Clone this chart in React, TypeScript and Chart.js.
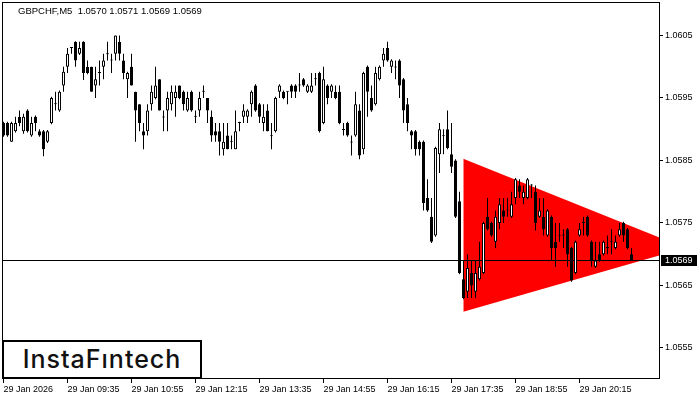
import React, { useEffect, useRef } from "react";
import { Chart, registerables } from "chart.js";

Chart.register(...registerables);

const titleText = "GBPCHF,M5  1.0570 1.0571 1.0569 1.0569";
const logoText = "InstaFıntech";

const opens = [
  1.0591, 1.0591, 1.0588, 1.05897, 1.0592, 1.05897, 1.0593, 1.0589, 1.0592, 1.05897,
  1.05897, 1.0588, 1.0591, 1.0594, 1.0593, 1.0597, 1.06, 1.0603, 1.0604, 1.06021,
  1.0604, 1.06, 1.06, 1.0597, 1.0599, 1.06, 1.0602, 1.0601, 1.06021, 1.0604,
  1.0601, 1.0598, 1.06, 1.0596, 1.0594, 1.05897, 1.05897, 1.0594, 1.0595, 1.0598,
  1.0592, 1.0593, 1.0594, 1.0595, 1.0597, 1.0596, 1.0593, 1.0596, 1.0592, 1.0593,
  1.0596, 1.0595, 1.0592, 1.05897, 1.05897, 1.05868, 1.0589, 1.0588, 1.05868, 1.0591,
  1.0592, 1.0592, 1.0594, 1.0597, 1.0594, 1.0591, 1.0593, 1.0589, 1.05897, 1.0596,
  1.0596, 1.0596, 1.0597, 1.0597, 1.0597, 1.0598, 1.0596, 1.0596, 1.0598, 1.0599,
  1.0591, 1.0597, 1.0596, 1.0596, 1.0596, 1.059, 1.0591, 1.0588, 1.0589, 1.0593,
  1.05868, 1.06, 1.0595, 1.0594, 1.0598, 1.0601, 1.0603, 1.06, 1.06, 1.0601,
  1.0598, 1.0594, 1.05897, 1.05897, 1.0588, 1.0588, 1.0579, 1.0576, 1.0573, 1.0586,
  1.0589, 1.059, 1.0586, 1.0585, 1.05785, 1.0566, 1.0564, 1.0567, 1.0564, 1.0566,
  1.0567, 1.0576, 1.0575, 1.0572, 1.0575, 1.0577, 1.0577, 1.0576, 1.0579, 1.0581,
  1.0579, 1.0579, 1.0581, 1.058, 1.0576, 1.0576, 1.0573, 1.0576, 1.0572, 1.0573,
  1.0573, 1.0574, 1.0571, 1.0567, 1.0573, 1.0575, 1.0576, 1.0572, 1.0568, 1.057,
  1.057, 1.0571, 1.0572, 1.0571, 1.0573, 1.0575, 1.0574, 1.057,
];

const highs = [
  1.05912, 1.05912, 1.05912, 1.0592, 1.0593, 1.05925, 1.05932, 1.0592, 1.05922, 1.059,
  1.05899, 1.05899, 1.05952, 1.0596, 1.05962, 1.06, 1.0603, 1.06031, 1.06041, 1.0604,
  1.06041, 1.0601, 1.06, 1.06, 1.0601, 1.06021, 1.0604, 1.06021, 1.0605, 1.0605,
  1.06021, 1.05992, 1.06021, 1.0596, 1.0594, 1.0591, 1.0594, 1.0597, 1.06, 1.0598,
  1.0593, 1.0596, 1.0597, 1.0597, 1.0597, 1.05962, 1.0596, 1.05962, 1.0593, 1.0596,
  1.0597, 1.0595, 1.0593, 1.0591, 1.0591, 1.0591, 1.0591, 1.0589, 1.0593, 1.05912,
  1.0594, 1.05932, 1.05962, 1.05972, 1.05942, 1.0594, 1.0594, 1.0591, 1.05952, 1.05972,
  1.05962, 1.05961, 1.05972, 1.05972, 1.0599, 1.05982, 1.05972, 1.0599, 1.0599, 1.05992,
  1.06, 1.05972, 1.05972, 1.0597, 1.0597, 1.0591, 1.05912, 1.0589, 1.0596, 1.0594,
  1.05992, 1.06002, 1.0597, 1.06, 1.06002, 1.0603, 1.0604, 1.06012, 1.0601, 1.06012,
  1.05982, 1.0595, 1.05899, 1.05899, 1.05882, 1.05882, 1.0582, 1.0579, 1.05872, 1.0591,
  1.059, 1.0593, 1.0591, 1.05852, 1.058, 1.0569, 1.057, 1.0569, 1.0569, 1.0572,
  1.05752, 1.0579, 1.05752, 1.0577, 1.0579, 1.0579, 1.0579, 1.058, 1.05822, 1.0582,
  1.0581, 1.05822, 1.05812, 1.0581, 1.0579, 1.0579, 1.05772, 1.05762, 1.0575, 1.0575,
  1.0574, 1.05742, 1.05712, 1.05722, 1.0575, 1.0576, 1.05762, 1.05722, 1.0572, 1.0572,
  1.05722, 1.0573, 1.0574, 1.0573, 1.0575, 1.05752, 1.05742, 1.0571,
];

const lows = [
  1.05888, 1.05888, 1.0588, 1.05895, 1.05905, 1.05893, 1.05895, 1.05888, 1.05897, 1.05888,
  1.05857, 1.05878, 1.05908, 1.0593, 1.05928, 1.0596, 1.0599, 1.06021, 1.06, 1.06019,
  1.05979, 1.05988, 1.0596, 1.0595, 1.0597, 1.0598, 1.0601, 1.0599, 1.0601, 1.0601,
  1.0598, 1.0595, 1.0597, 1.0588, 1.05897, 1.05868, 1.0589, 1.0593, 1.05948, 1.0593,
  1.05897, 1.05897, 1.0593, 1.0592, 1.05948, 1.0593, 1.05928, 1.05928, 1.0591, 1.0592,
  1.0595, 1.0591, 1.0588, 1.0588, 1.05858, 1.05858, 1.05868, 1.05868, 1.05868, 1.05897,
  1.0591, 1.0591, 1.0592, 1.05928, 1.0591, 1.05897, 1.05897, 1.05868, 1.05895, 1.0595,
  1.05948, 1.0594, 1.0595, 1.0595, 1.0596, 1.05968, 1.05958, 1.05958, 1.0597, 1.05895,
  1.05908, 1.0594, 1.0595, 1.05948, 1.05908, 1.0589, 1.05888, 1.05858, 1.05888, 1.05852,
  1.0586, 1.0592, 1.05928, 1.05938, 1.05978, 1.06, 1.06008, 1.0599, 1.0598, 1.0595,
  1.0591, 1.05897, 1.05868, 1.05858, 1.05858, 1.0577, 1.05768, 1.05718, 1.05728, 1.0583,
  1.0586, 1.05868, 1.0583, 1.05758, 1.05668, 1.05628, 1.0563, 1.0563, 1.0563, 1.05658,
  1.05668, 1.05738, 1.05728, 1.0571, 1.0574, 1.0575, 1.0576, 1.05758, 1.0578, 1.0579,
  1.0578, 1.05788, 1.0579, 1.05738, 1.05758, 1.0573, 1.05728, 1.0569, 1.0568, 1.0572,
  1.0571, 1.0568, 1.05656, 1.05668, 1.05728, 1.0573, 1.05728, 1.0568, 1.05678, 1.05688,
  1.05698, 1.057, 1.057, 1.05708, 1.05728, 1.0572, 1.05708, 1.0569,
];

const closes = [
  1.0589, 1.0589, 1.0591, 1.0591, 1.0591, 1.0592, 1.05897, 1.0591, 1.0591, 1.0589,
  1.05868, 1.05897, 1.0595, 1.05941, 1.0596, 1.05992, 1.06021, 1.0603, 1.0601, 1.0603,
  1.0599, 1.0599, 1.0596, 1.0598, 1.05991, 1.0601, 1.06021, 1.06011, 1.0605, 1.06021,
  1.0599, 1.0599, 1.0597, 1.0593, 1.0591, 1.0589, 1.0593, 1.0596, 1.0597, 1.0593,
  1.05919, 1.0595, 1.0596, 1.0596, 1.0595, 1.0594, 1.0595, 1.0593, 1.05921, 1.0595,
  1.05961, 1.0593, 1.0589, 1.0589, 1.0588, 1.0588, 1.05868, 1.05881, 1.05897, 1.05911,
  1.0593, 1.0593, 1.0596, 1.0593, 1.0592, 1.0592, 1.05897, 1.05889, 1.0595, 1.0597,
  1.0595, 1.0596, 1.0596, 1.0596, 1.05971, 1.0597, 1.0597, 1.0597, 1.05981, 1.05897,
  1.0598, 1.0595, 1.0597, 1.0595, 1.0591, 1.05899, 1.0589, 1.05879, 1.0594, 1.05858,
  1.0599, 1.0596, 1.0593, 1.0599, 1.06, 1.06021, 1.0601, 1.0601, 1.05999, 1.0597,
  1.0593, 1.0591, 1.0589, 1.05868, 1.05868, 1.05782, 1.0577, 1.0572, 1.0587, 1.059,
  1.05889, 1.0587, 1.0584, 1.0576, 1.0567, 1.0563, 1.05678, 1.0565, 1.0567, 1.0568,
  1.0575, 1.0574, 1.0573, 1.0576, 1.0578, 1.0576, 1.05771, 1.0578, 1.0582, 1.058,
  1.058, 1.0582, 1.0581, 1.0575, 1.0577, 1.0574, 1.0577, 1.0571, 1.0571, 1.05729,
  1.05731, 1.057, 1.05658, 1.0572, 1.0574, 1.05751, 1.0573, 1.0569, 1.0569, 1.0569,
  1.0572, 1.05711, 1.05721, 1.0572, 1.0574, 1.0573, 1.0571, 1.0569,
];

// bar index of each time label (5-minute bars starting 29 Jan 08:15)
const tickBars = [0, 16, 32, 48, 64, 80, 96, 112, 128, 144];
const tickLabels = [
  "29 Jan 2026",
  "29 Jan 09:35",
  "29 Jan 10:55",
  "29 Jan 12:15",
  "29 Jan 13:35",
  "29 Jan 14:55",
  "29 Jan 16:15",
  "29 Jan 17:35",
  "29 Jan 18:55",
  "29 Jan 20:15",
];
const priceTicks = [1.0555, 1.0565, 1.0575, 1.0585, 1.0595, 1.0605];

// symmetrical triangle pattern: start bar / apex bar, upper and lower edges
const triangleBars = [114.95, 170.55];
const triangleUpper = [1.05853, 1.0571];
const triangleLower = [1.05608, 1.0571];

const AXIS_FONT = { family: "'Liberation Sans', Arial, sans-serif", size: 9 };

export default function App() {
  const canvasRef = useRef<HTMLCanvasElement | null>(null);

  useEffect(() => {
    const canvas = canvasRef.current;
    if (!canvas) return;
    const lastClose = closes[closes.length - 1];

    const framePlugin = {
      id: "frame",
      afterDatasetsDraw(chart: any) {
        const { ctx, chartArea } = chart;
        ctx.save();
        ctx.strokeStyle = "#000";
        ctx.lineWidth = 1;
        ctx.strokeRect(
          chartArea.left + 0.5,
          chartArea.top + 0.5,
          chartArea.right - chartArea.left - 1,
          chartArea.bottom - chartArea.top - 1
        );
        ctx.restore();
      },
    };

    const priceLabelPlugin = {
      id: "priceLabel",
      afterDraw(chart: any) {
        const { ctx, chartArea } = chart;
        const y = Math.round(chart.scales.y.getPixelForValue(lastClose));
        ctx.save();
        ctx.fillStyle = "#000";
        ctx.fillRect(chartArea.right + 1, y - 6, 36, 11);
        ctx.fillStyle = "#fff";
        ctx.font = "9px 'Liberation Sans', Arial, sans-serif";
        ctx.textBaseline = "middle";
        ctx.textAlign = "left";
        ctx.fillText(lastClose.toFixed(4), chartArea.right + 5, y - 0.5);
        ctx.restore();
      },
    };

    const idx = opens.map((_, i) => i);

    const chart = new Chart(canvas, {
      type: "bar",
      data: {
        datasets: [
          {
            type: "bar",
            label: "bodies",
            data: idx.map((i) => ({ x: i, y: [opens[i], closes[i]] })) as any,
            backgroundColor: (c: any) =>
              closes[c.dataIndex] >= opens[c.dataIndex] ? "#ffffff" : "#000000",
            borderColor: "#000",
            borderWidth: 1,
            borderSkipped: false,
            barThickness: 3,
            minBarLength: 1,
            grouped: false,
            inflateAmount: 0,
            order: 0,
          } as any,
          {
            type: "bar",
            label: "wicks",
            data: idx.map((i) => ({ x: i, y: [lows[i], highs[i]] })) as any,
            backgroundColor: "#000",
            borderWidth: 0,
            barThickness: 1,
            minBarLength: 1,
            grouped: false,
            inflateAmount: 0,
            order: 1,
          } as any,
          {
            type: "line",
            label: "bid",
            data: [
              { x: -1, y: lastClose },
              { x: 200, y: lastClose },
            ],
            borderColor: "#000",
            borderWidth: 1,
            pointRadius: 0,
            fill: false,
            order: 2,
          } as any,
          {
            type: "line",
            label: "triangleUpper",
            data: triangleBars.map((x, k) => ({ x, y: triangleUpper[k] })),
            borderWidth: 0,
            borderColor: "rgba(0,0,0,0)",
            pointRadius: 0,
            fill: false,
            order: 3,
          } as any,
          {
            type: "line",
            label: "triangleLower",
            data: triangleBars.map((x, k) => ({ x, y: triangleLower[k] })),
            borderWidth: 0,
            borderColor: "rgba(0,0,0,0)",
            backgroundColor: "#ff0000",
            pointRadius: 0,
            fill: "-1",
            order: 3,
          } as any,
        ],
      },
      options: {
        responsive: false,
        animation: false,
        devicePixelRatio: 1,
        events: [],
        layout: { padding: { left: 2, top: 2, right: 0, bottom: 0 } },
        plugins: {
          legend: { display: false },
          tooltip: { enabled: false },
          title: { display: false },
        },
        scales: {
          x: {
            type: "linear",
            min: -0.375,
            max: 164.125,
            offset: false,
            afterBuildTicks: (s: any) => {
              s.ticks = tickBars.map((v) => ({ value: v }));
            },
            afterFit: (s: any) => {
              s.height = 21;
              s.paddingLeft = 0;
              s.paddingRight = 0;
            },
            ticks: {
              autoSkip: false,
              maxRotation: 0,
              minRotation: 0,
              align: "start",
              padding: 1,
              color: "#000",
              font: AXIS_FONT,
              callback: (_v: any, i: number) => tickLabels[i],
            },
            grid: {
              display: true,
              drawOnChartArea: false,
              drawTicks: true,
              tickLength: 4,
              color: "#000",
              offset: false,
            },
            border: { display: false },
          } as any,
          y: {
            type: "linear",
            position: "right",
            min: 1.055004,
            max: 1.061036,
            afterBuildTicks: (s: any) => {
              s.ticks = priceTicks.map((v) => ({ value: v }));
            },
            afterFit: (s: any) => {
              s.width = 40;
              s.paddingTop = 0;
              s.paddingBottom = 0;
            },
            ticks: {
              padding: 2,
              color: "#000",
              font: AXIS_FONT,
              callback: (v: any) => Number(v).toFixed(4),
            },
            grid: {
              display: true,
              drawOnChartArea: false,
              drawTicks: true,
              tickLength: 3,
              color: "#000",
            },
            border: { display: false },
          } as any,
        },
      },
      plugins: [framePlugin, priceLabelPlugin],
    });

    return () => chart.destroy();
  }, []);

  return (
    <div
      style={{
        position: "fixed",
        left: 0,
        top: 0,
        width: 700,
        height: 400,
        background: "#fff",
        overflow: "hidden",
      }}
    >
      <canvas ref={canvasRef} width={700} height={400} style={{ display: "block" }} />
      <div
        style={{
          position: "absolute",
          left: 18,
          top: 5,
          font: "9.5px 'Liberation Sans', Arial, sans-serif",
          lineHeight: "11px",
          color: "#000",
          whiteSpace: "pre",
        }}
      >
        {titleText}
      </div>
      <div
        style={{
          position: "absolute",
          left: 2,
          top: 340,
          width: 200,
          height: 39,
          boxSizing: "border-box",
          border: "2px solid #000",
          background: "#fff",
          display: "flex",
          alignItems: "center",
          justifyContent: "center",
          fontFamily: "Inter, 'Noto Sans', sans-serif",
          fontWeight: 500,
          fontSize: 25,
          letterSpacing: "1px",
          color: "#111",
          lineHeight: 1,
        }}
      >
        {logoText}
      </div>
    </div>
  );
}
